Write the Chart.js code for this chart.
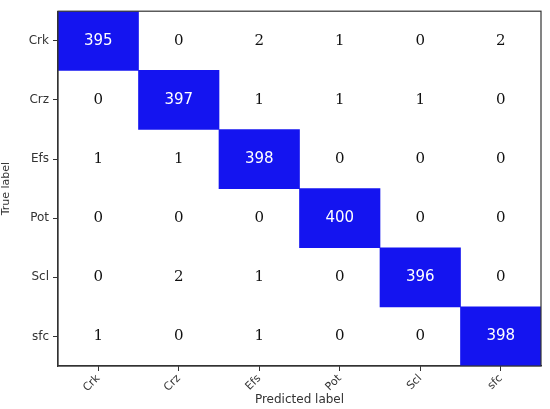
<!DOCTYPE html>
<html>
<head>
<meta charset="utf-8">
<script src="https://cdn.jsdelivr.net/npm/chart.js@4/dist/chart.umd.min.js"></script>
<style>
html,body{margin:0;padding:0;background:#fff;}
#wrap{width:550px;height:409px;}
</style>
</head>
<body>
<div id="wrap"><canvas id="c" width="550" height="409"></canvas></div>
<script>
const categories = ['Crk', 'Crz', 'Efs', 'Pot', 'Scl', 'sfc'];
const rowCrk = [395, 0, 2, 1, 0, 2];
const rowCrz = [0, 397, 1, 1, 1, 0];
const rowEfs = [1, 1, 398, 0, 0, 0];
const rowPot = [0, 0, 0, 400, 0, 0];
const rowScl = [0, 2, 1, 0, 396, 0];
const rowSfc = [1, 0, 1, 0, 0, 398];
const matrix = [rowCrk, rowCrz, rowEfs, rowPot, rowScl, rowSfc];

const BLUE = 'rgb(20,20,240)';

const datasets = matrix.map((row, r) => ({
  label: categories[r],
  data: row.map(() => [r, r + 1]),
  backgroundColor: row.map(v => v > 200 ? BLUE : 'rgba(0,0,0,0)'),
  borderWidth: 0,
  barPercentage: 1,
  categoryPercentage: 1,
  grouped: false
}));

const frame = {
  id: 'frame',
  afterDatasetsDraw(chart) {
    const ctx = chart.ctx, a = chart.chartArea;
    const xs = chart.scales.x, ys = chart.scales.y;
    ctx.save();
    ctx.textAlign = 'center';
    ctx.textBaseline = 'middle';
    matrix.forEach((row, r) => {
      row.forEach((v, j) => {
        const x = xs.getPixelForValue(j);
        const y = ys.getPixelForValue(r + 0.5);
        if (v > 200) {
          ctx.fillStyle = '#ffffff';
          ctx.font = '15px "DejaVu Sans"';
        } else {
          ctx.fillStyle = '#111111';
          ctx.font = '15px "DejaVu Serif"';
        }
        ctx.fillText(String(v), x, y);
      });
    });
    ctx.strokeStyle = '#333333';
    ctx.lineWidth = 1.2;
    ctx.strokeRect(a.left, a.top, a.right - a.left, a.bottom - a.top);
    ctx.restore();
  }
};

new Chart(document.getElementById('c'), {
  type: 'bar',
  data: { labels: categories, datasets },
  options: {
    responsive: false,
    animation: false,
    layout: { padding: { left: 0, right: 9, top: 6, bottom: 0 } },
    plugins: { legend: { display: false }, tooltip: { enabled: false } },
    scales: {
      x: {
        type: 'category',
        offset: true,
        grid: { display: true, offset: false, drawOnChartArea: false, drawTicks: true, tickLength: 5, color: '#333333' },
        border: { display: true, color: '#333333', width: 1.2 },
        ticks: { minRotation: 45, maxRotation: 45, color: '#333333', font: { family: 'DejaVu Sans', size: 11 }, padding: 1 },
        title: { display: true, text: 'Predicted label', color: '#333333', font: { family: 'DejaVu Sans', size: 12 }, padding: { top: 0, bottom: 2 } },
        afterFit(s) { s.height = 43; }
      },
      y: {
        type: 'linear',
        min: 0,
        max: 6,
        reverse: true,
        afterBuildTicks(s) { s.ticks = categories.map((c, i) => ({ value: i + 0.5 })); },
        grid: { display: true, drawOnChartArea: false, drawTicks: true, tickLength: 5, color: '#333333' },
        border: { display: true, color: '#333333', width: 1.2 },
        ticks: { autoSkip: false, color: '#333333', font: { family: 'DejaVu Sans', size: 12 }, padding: 4,
          callback: (v, i) => categories[i] },
        title: { display: true, text: 'True label', color: '#333333', font: { family: 'DejaVu Sans', size: 11 }, padding: { top: 0, bottom: 4 } },
        afterFit(s) { s.width = 58; }
      }
    }
  },
  plugins: [frame]
});
</script>
</body>
</html>
